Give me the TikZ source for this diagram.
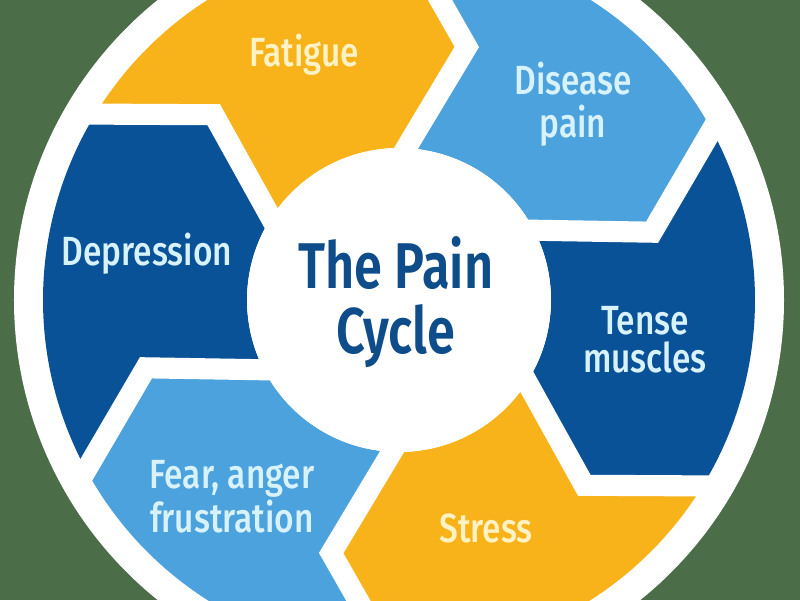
\documentclass[tikz,border=0pt]{standalone}
\usepackage{fontspec}
\setmainfont{Fira Sans}
\newfontfamily\segfont[FakeStretch=0.82]{Fira Sans Medium}
\newfontfamily\titlefont[FakeStretch=0.78]{Fira Sans SemiBold}
\usetikzlibrary{positioning}
\definecolor{bggreen}{HTML}{4B6E48}
\definecolor{painyellow}{HTML}{F8B31A}
\definecolor{painlight}{HTML}{4CA2DC}
\definecolor{paindark}{HTML}{0A5298}
\definecolor{titleblue}{HTML}{0E4C8A}
\definecolor{txtblue}{HTML}{D8F2FB}
\definecolor{txtyellow}{HTML}{FFF2C4}

\begin{document}
\begin{tikzpicture}[x=0.025cm,y=0.025cm,
  seglabel/.style={font=\segfont\fontsize{29}{31}\selectfont, align=center, text=txtblue},
  gap/.style={white, line width=15pt, line join=miter}]
  \useasboundingbox (-399,-300) rectangle (401,300);
  \fill[bggreen] (-399,-300) rectangle (401,300);
  \fill[white] (0,0) circle[radius=385];
  \foreach \a/\c in {30/painlight, -30/paindark, -90/painyellow, -150/painlight, 150/paindark, 90/painyellow}
    \fill[\c] ({\a+60}:356) arc[start angle=\a+60, end angle=\a, radius=356]
      -- ({\a-15}:262) -- (\a:152) arc[start angle=\a, end angle=\a+60, radius=152]
      -- ({\a+45}:262) -- cycle;
  \foreach \b in {30,90,...,330}
    \draw[gap] (\b:372) -- ({\b-15}:262) -- (\b:140);
  \fill[white] (0,0) circle[radius=152];

  \node[font=\titlefont\fontsize{46}{46}\selectfont, align=center, text=titleblue] (title) at (-3,-2) {The Pain\\Cycle};
  \node[seglabel, text=txtyellow] (fatigue) at (-95,245) {Fatigue};
  \node[seglabel] (disease) at (174,196) {Disease\\pain};
  \node[seglabel] (tense) at (246,-40) {Tense\\[-4pt]muscles};
  \node[seglabel, text=txtyellow] (stress) at (87,-228) {Stress};
  \node[seglabel] (fear) at (-167,-197) {Fear, anger\\frustration};
  \node[seglabel] (depression) at (-252,46) {Depression};
\end{tikzpicture}
\end{document}
